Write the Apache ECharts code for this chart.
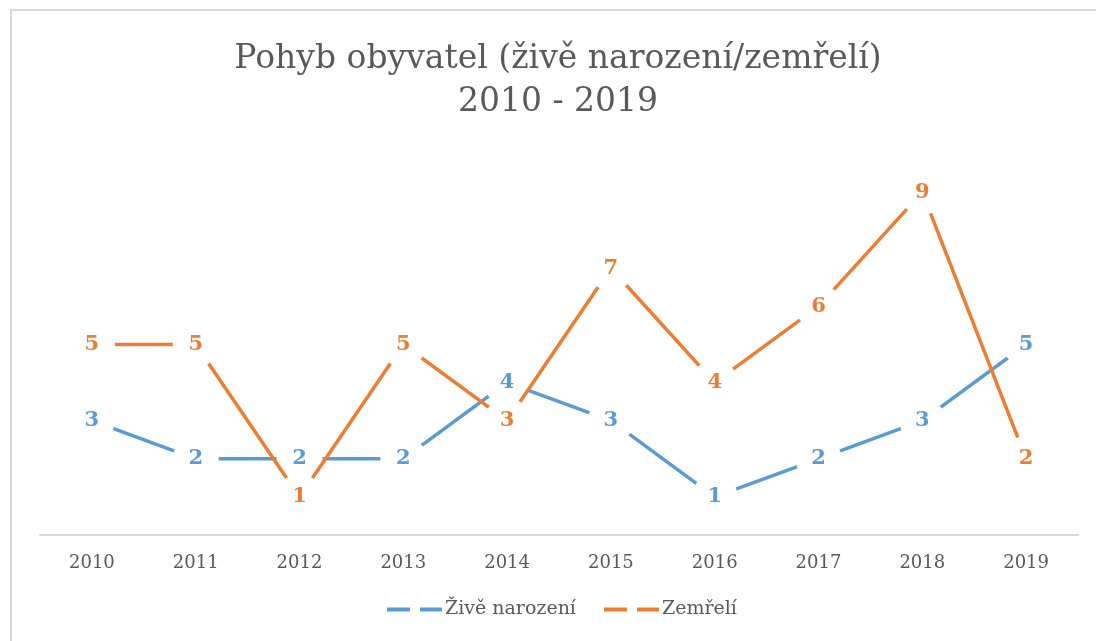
<!DOCTYPE html>
<html>
<head>
<meta charset="utf-8">
<script src="https://cdn.jsdelivr.net/npm/echarts@6/dist/echarts.min.js"></script>
<style>
    html, body { margin: 0; padding: 0; background: #fff; }
    #main { width: 1096px; height: 641px; }
</style>
</head>
<body>
<div id="main"></div>
<script>
const years = ['2010', '2011', '2012', '2013', '2014', '2015', '2016', '2017', '2018', '2019']
const narozeni = [3, 2, 2, 2, 4, 3, 1, 2, 3, 5]
const zemreli = [5, 5, 1, 5, 3, 7, 4, 6, 9, 2]

const blue = '#5b9bd5'
const orange = '#ed7d31'
const serif = 'DejaVu Serif'
// two dashes, as in the Excel legend
const dashIcon = 'path://M0,0H23V4H0Z M33,0H55V4H33Z'

// white disc + value label drawn over its own line, like the gaps Excel leaves
function labelSeries (name, data, color, z) {
    return {
        name: name,
        type: 'scatter',
        data: data,
        z: z,
        symbol: 'circle',
        symbolSize: 46,
        itemStyle: { color: '#fff', opacity: 1 },
        label: {
            show: true,
            position: 'inside',
            color: color,
            fontFamily: serif,
            fontWeight: 'bold',
            fontSize: 21
        },
        emphasis: { disabled: true },
        silent: true
    }
}

const myChart = echarts.init(document.getElementById('main'))
myChart.setOption({
    animation: false,
    title: {
        text: 'Pohyb obyvatel (živě narození/zemřelí)\n2010 - 2019',
        left: 553,
        textAlign: 'center',
        top: 33,
        textStyle: {
            fontFamily: serif,
            fontWeight: 'normal',
            fontSize: 33,
            lineHeight: 43,
            color: '#595959'
        }
    },
    legend: {
        data: [
            { name: 'Živě narození', icon: dashIcon },
            { name: 'Zemřelí', icon: dashIcon }
        ],
        left: 382,
        top: 595,
        itemWidth: 55,
        itemHeight: 4,
        itemGap: 28,
        textStyle: { fontFamily: serif, fontSize: 19, color: '#595959', padding: [0, 0, 0, -2] }
    },
    graphic: [{
        type: 'rect',
        shape: { x: 11, y: 10, width: 1200, height: 700 },
        style: { fill: 'none', stroke: '#d9d9d9', lineWidth: 2 },
        silent: true
    }],
    grid: { left: 40, right: 18, top: 154, bottom: 106 },
    xAxis: {
        type: 'category',
        data: years,
        boundaryGap: true,
        axisLine: { lineStyle: { color: '#d9d9d9', width: 2 } },
        axisTick: { show: false },
        axisLabel: { fontFamily: serif, fontSize: 18, color: '#595959', margin: 19 }
    },
    yAxis: {
        type: 'value',
        min: 0,
        max: 10,
        show: false
    },
    series: [{
        name: 'Živě narození',
        type: 'line',
        data: narozeni,
        z: 2,
        symbol: 'none',
        lineStyle: { color: blue, width: 3.5 },
        itemStyle: { color: blue }
    },
    labelSeries('narozeni-labels', narozeni, blue, 3),
    {
        name: 'Zemřelí',
        type: 'line',
        data: zemreli,
        z: 4,
        symbol: 'none',
        lineStyle: { color: orange, width: 3.5 },
        itemStyle: { color: orange }
    },
    labelSeries('zemreli-labels', zemreli, orange, 5)]
})
</script>
</body>
</html>
